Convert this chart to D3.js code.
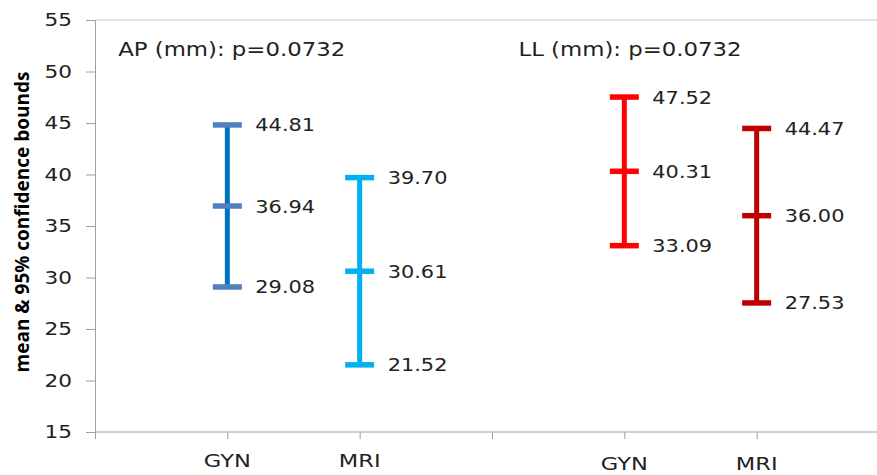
<!DOCTYPE html>
<html lang="en">
<head>
<meta charset="utf-8">
<style>
  body { margin: 0; background: #fff; }
  svg { display: block; }
  text { font-family: "DejaVu Sans", Verdana, sans-serif; fill: #222; }
</style>
</head>
<body>
<svg width="877" height="475"></svg>
<script src="https://cdn.jsdelivr.net/npm/d3@7/dist/d3.min.js"></script>
<script>
// chart values
var categories = ["GYN", "MRI", "GYN", "MRI"];
var slots = [1, 2, 4, 5];            // position on the category axis
var lower = [29.08, 21.52, 33.09, 27.53];
var means = [36.94, 30.61, 40.31, 36.00];
var upper = [44.81, 39.70, 47.52, 44.47];
var lineColors = ["#0070c0", "#00b0f0", "#ff0000", "#c00000"];
var capColors = ["#4f81bd", "#00b0f0", "#ff0000", "#c00000"];
var yTicks = [15, 20, 25, 30, 35, 40, 45, 50, 55];
var xTicks = [0, 1, 2, 3, 4, 5];
var labelShift = [0, 0, 3, 3];       // right-hand labels sit a little lower
var notes = ["AP (mm): p=0.0732", "LL (mm): p=0.0732"];
var noteSlots = [0.175, 3.2];

var svg = d3.select("svg");

var x = d3.scaleLinear().domain([0, 6]).range([95, 889]);
var y = d3.scaleLinear().domain([15, 55]).range([432, 20]);

// stretched text helper (the source picture is widened horizontally)
function label(g, tx, ty, sx) {
    return g.append("text")
        .attr("transform", "translate(" + tx + "," + ty + ") scale(" + sx + ",1)");
}

// top border line
svg.append("line")
    .attr("x1", x(0)).attr("x2", 877)
    .attr("y1", y(55)).attr("y2", y(55))
    .attr("stroke", "#c8c8c8").attr("stroke-width", 1);

// y axis
var yAxis = svg.append("g")
    .attr("transform", "translate(" + x(0) + ",0)")
    .call(d3.axisLeft(y).tickValues(yTicks).tickSize(9).tickFormat(""));
yAxis.select(".domain").attr("stroke", "#a0a0a0");
yAxis.selectAll(".tick line").attr("stroke", "#a0a0a0");

yTicks.forEach(function(v) {
    label(svg, 72, y(v), 1.2)
        .attr("text-anchor", "end")
        .attr("dy", "0.36em")
        .style("font-size", "18px")
        .text(v);
});

// x axis
var xAxis = svg.append("g")
    .attr("transform", "translate(0," + y(15) + ")")
    .call(d3.axisBottom(x).tickValues(xTicks).tickSize(7).tickFormat(""));
xAxis.select(".domain").attr("d", "M" + x(0) + ",0H877").attr("stroke", "#a0a0a0");
xAxis.selectAll(".tick line").attr("stroke", "#a0a0a0");

categories.forEach(function(c, i) {
    label(svg, x(slots[i]), 467 + labelShift[i], 1.22)
        .attr("text-anchor", "middle")
        .style("font-size", "18.5px")
        .text(c);
});

// y axis title
svg.append("text")
    .attr("transform", "translate(29," + ((y(15) + y(55)) / 2 - 4) + ") rotate(-90)")
    .attr("text-anchor", "middle")
    .style("font-family", "'Open Sans', sans-serif")
    .style("font-size", "19px")
    .style("font-weight", "700")
    .style("fill", "#000")
    .text("mean & 95% confidence bounds");

// error bars
var capW = 29;
var bars = svg.append("g");
categories.forEach(function(c, i) {
    var cx = x(slots[i]);
    bars.append("line")
        .attr("x1", cx).attr("x2", cx)
        .attr("y1", y(upper[i])).attr("y2", y(lower[i]))
        .attr("stroke", lineColors[i]).attr("stroke-width", 5);
    [upper[i], means[i], lower[i]].forEach(function(v) {
        bars.append("line")
            .attr("x1", cx - capW / 2).attr("x2", cx + capW / 2)
            .attr("y1", y(v)).attr("y2", y(v))
            .attr("stroke", capColors[i]).attr("stroke-width", 5.5);
        label(bars, cx + 28, y(v), 1.16)
            .attr("dy", "0.36em")
            .style("font-size", "18px")
            .text(v.toFixed(2));
    });
});

// p-value notes
notes.forEach(function(n, i) {
    label(svg, x(noteSlots[i]), 49, 1.14)
        .attr("dy", "0.36em")
        .style("font-size", "20px")
        .text(n);
});
</script>
</body>
</html>
